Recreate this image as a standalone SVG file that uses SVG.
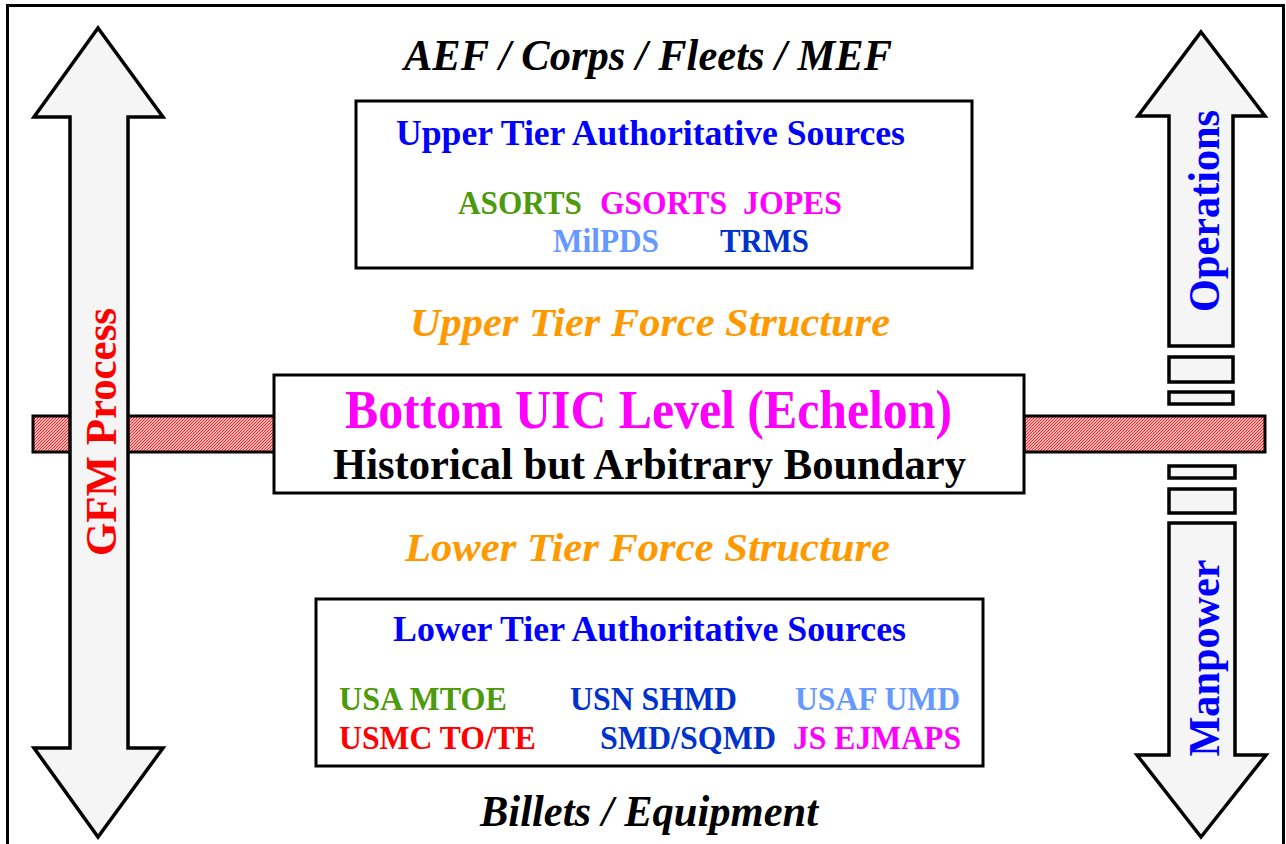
<svg xmlns="http://www.w3.org/2000/svg" width="1286" height="844" viewBox="0 0 1286 844">
<defs>
<pattern id="hatch" patternUnits="userSpaceOnUse" width="3" height="3">
<rect width="3" height="3" fill="#ffffff"/>
<path d="M-1,1 L1,-1 M0,3 L3,0 M2,4 L4,2" stroke="#ff1a1a" stroke-width="1.2"/>
</pattern>
</defs>
<style>
.frame{fill:#ffffff;stroke:#000;stroke-width:3}
.arrow{fill:#f5f5f5;stroke:#000;stroke-width:3.5;stroke-linejoin:miter}
.box{fill:#ffffff;stroke:#000;stroke-width:3}
.bar{fill:url(#hatch);stroke:#000;stroke-width:3}
text{font-family:"Liberation Serif","Times New Roman",serif;font-weight:bold}
.c{text-anchor:middle}
.it{font-style:italic}
.blue{fill:#0000ff}
.green{fill:#4d9a0c}
.mag{fill:#ff00ff}
.lblue{fill:#6699ff}
.dblue{fill:#0033cc}
.red{fill:#ff0000}
.orange{fill:#ff9900}
</style>
<rect class="frame" x="7.5" y="5.5" width="1276" height="860"/>
<g id="bar-left"><rect class="bar" x="33" y="416" width="242" height="36"/></g>
<g id="bar-right"><rect class="bar" x="1024" y="416" width="241" height="36"/></g>
<g id="gfm-arrow">
<polygon class="arrow" points="98,28 163,117 128,117 128,748 163,748 98,837 34,748 70,748 70,117 34,117"/>
<text class="red c" font-size="44" transform="translate(116,432) rotate(-90)" textLength="248" lengthAdjust="spacingAndGlyphs">GFM Process</text>
</g>
<g id="operations-arrow">
<polygon class="arrow" points="1201,32 1265,116 1233,116 1233,346 1169,346 1169,116 1138,116"/>
<text class="blue c" font-size="44" transform="translate(1219,211) rotate(-90)" textLength="202" lengthAdjust="spacingAndGlyphs">Operations</text>
</g>
<g id="gap-blocks">
<rect class="arrow" x="1169" y="357" width="64" height="25"/>
<rect class="arrow" x="1169" y="392" width="64" height="12"/>
<rect class="arrow" x="1169" y="466" width="66" height="12"/>
<rect class="arrow" x="1169" y="489" width="66" height="24"/>
</g>
<g id="manpower-arrow">
<polygon class="arrow" points="1169,523 1235,523 1235,755 1266,755 1201,837 1137,755 1169,755"/>
<text class="blue c" font-size="44" transform="translate(1219,658) rotate(-90)" textLength="197" lengthAdjust="spacingAndGlyphs">Manpower</text>
</g>
<g id="top-label"><text class="c it" font-size="44" x="648" y="70" textLength="488" lengthAdjust="spacingAndGlyphs">AEF / Corps / Fleets / MEF</text></g>
<g id="upper-sources">
<rect class="box" x="356" y="101" width="616" height="167"/>
<text class="blue c" font-size="35" x="650.5" y="145" textLength="509" lengthAdjust="spacingAndGlyphs">Upper Tier Authoritative Sources</text>
<text class="green" font-size="33" x="458" y="214" textLength="124" lengthAdjust="spacingAndGlyphs">ASORTS</text>
<text class="mag" font-size="33" x="600" y="214" textLength="127" lengthAdjust="spacingAndGlyphs">GSORTS</text>
<text class="mag" font-size="33" x="743" y="214" textLength="99" lengthAdjust="spacingAndGlyphs">JOPES</text>
<text class="lblue" font-size="33" x="553" y="252" textLength="106" lengthAdjust="spacingAndGlyphs">MilPDS</text>
<text class="dblue" font-size="33" x="720" y="252" textLength="89" lengthAdjust="spacingAndGlyphs">TRMS</text>
</g>
<g id="upper-structure"><text class="orange c it" font-size="40" x="650" y="336" textLength="480" lengthAdjust="spacingAndGlyphs">Upper Tier Force Structure</text></g>
<g id="boundary">
<rect class="box" x="274" y="375" width="750" height="118"/>
<text class="mag c" font-size="54" x="648.5" y="428" textLength="607" lengthAdjust="spacingAndGlyphs">Bottom UIC Level (Echelon)</text>
<text class="c" font-size="45" x="649.5" y="479" textLength="633" lengthAdjust="spacingAndGlyphs">Historical but Arbitrary Boundary</text>
</g>
<g id="lower-structure"><text class="orange c it" font-size="40" x="647.5" y="561" textLength="485" lengthAdjust="spacingAndGlyphs">Lower Tier Force Structure</text></g>
<g id="lower-sources">
<rect class="box" x="316" y="599" width="667" height="167"/>
<text class="blue c" font-size="35" x="649.5" y="641" textLength="513" lengthAdjust="spacingAndGlyphs">Lower Tier Authoritative Sources</text>
<text class="green" font-size="33" x="339" y="710" textLength="168" lengthAdjust="spacingAndGlyphs">USA MTOE</text>
<text class="dblue" font-size="33" x="570" y="710" textLength="167" lengthAdjust="spacingAndGlyphs">USN SHMD</text>
<text class="lblue" font-size="33" x="795" y="710" textLength="165" lengthAdjust="spacingAndGlyphs">USAF UMD</text>
<text class="red" font-size="33" x="339" y="749" textLength="197" lengthAdjust="spacingAndGlyphs">USMC TO/TE</text>
<text class="dblue" font-size="33" x="600" y="749" textLength="176" lengthAdjust="spacingAndGlyphs">SMD/SQMD</text>
<text class="mag" font-size="33" x="793" y="749" textLength="168" lengthAdjust="spacingAndGlyphs">JS EJMAPS</text>
</g>
<g id="bottom-label"><text class="c it" font-size="44" x="649" y="826" textLength="338" lengthAdjust="spacingAndGlyphs">Billets / Equipment</text></g>
<g id="connectors"></g>
</svg>
